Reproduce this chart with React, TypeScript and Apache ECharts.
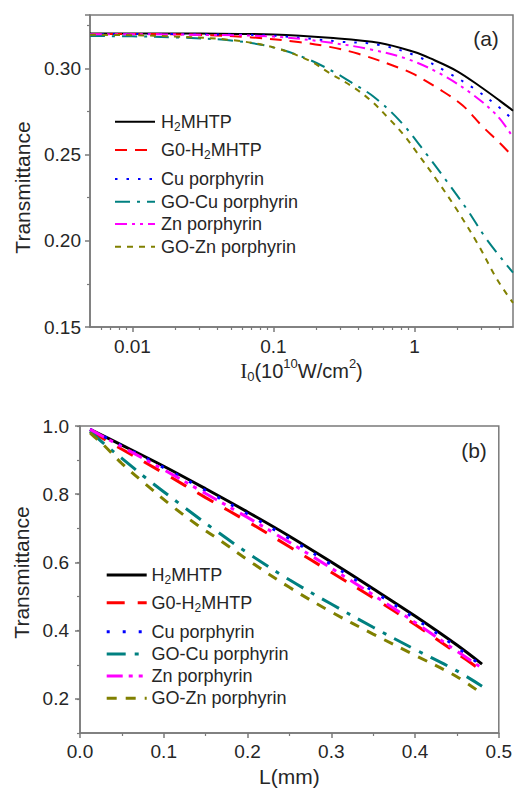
import React, { useEffect, useRef } from 'react';
import * as echarts from 'echarts';

// ---------- DATA ----------
const seriesNames = ['H2MHTP', 'G0-H2MHTP', 'Cu porphyrin', 'GO-Cu porphyrin', 'Zn porphyrin', 'GO-Zn porphyrin'];
const legendRich = ['{n|H}{s|2}{n|MHTP}', '{n|G0-H}{s|2}{n|MHTP}', '{n|Cu porphyrin}', '{n|GO-Cu porphyrin}', '{n|Zn porphyrin}', '{n|GO-Zn porphyrin}'];
const colors = ['#000000', '#ff0000', '#0000ff', '#008080', '#ff00ff', '#808000'];

// (a) Transmittance vs I0 (10^10 W/cm^2)
const aH2MHTP = [[0.005, 0.3203], [0.01, 0.3203], [0.03, 0.3202], [0.1, 0.3197], [0.25, 0.3178], [0.57, 0.3148], [1.0, 0.3095], [1.3, 0.3058], [2.0, 0.2985], [2.94, 0.2894], [4.0, 0.2815], [5.0, 0.2755]];
const aGOH2MHTP = [[0.005, 0.32], [0.01, 0.32], [0.03, 0.3195], [0.07, 0.318], [0.155, 0.3152], [0.25, 0.3125], [0.4, 0.3085], [0.8, 0.3], [1.0, 0.2965], [1.5, 0.288], [2.2, 0.2785], [3.0, 0.2668], [4.0, 0.257], [5.0, 0.2488]];
const aCu = [[0.005, 0.32], [0.01, 0.32], [0.03, 0.3198], [0.1, 0.319], [0.3, 0.3155], [0.55, 0.3138], [1.0, 0.3077], [1.71, 0.2978], [2.64, 0.2884], [4.08, 0.2768], [5.0, 0.27]];
const aGOCu = [[0.005, 0.3188], [0.01, 0.3186], [0.02, 0.318], [0.05, 0.3162], [0.1, 0.3122], [0.18, 0.305], [0.28, 0.2971], [0.35, 0.2923], [0.514, 0.2836], [0.8, 0.269], [1.23, 0.2498], [1.7, 0.2344], [2.37, 0.218], [3.27, 0.2006], [5.0, 0.1815]];
const aZn = [[0.005, 0.3198], [0.01, 0.3198], [0.03, 0.3195], [0.1, 0.3185], [0.25, 0.315], [0.49, 0.311], [0.89, 0.3055], [1.5, 0.2972], [2.5, 0.2858], [3.87, 0.2725], [5.0, 0.26]];
const aGOZn = [[0.005, 0.3195], [0.01, 0.3193], [0.02, 0.3185], [0.05, 0.3165], [0.1, 0.3122], [0.18, 0.3045], [0.253, 0.297], [0.35, 0.2903], [0.486, 0.2817], [0.675, 0.27], [0.84, 0.2614], [1.05, 0.2508], [1.44, 0.2353], [2.0, 0.218], [2.79, 0.1987], [3.87, 0.1774], [5.0, 0.164]];

// (b) Transmittance vs L (mm)
const bH2MHTP = [[0.012, 0.99], [0.05, 0.944], [0.1, 0.882], [0.15, 0.816], [0.2, 0.748], [0.25, 0.677], [0.3, 0.601], [0.35, 0.523], [0.4, 0.443], [0.45, 0.358], [0.48, 0.302]];
const bGOH2MHTP = [[0.012, 0.985], [0.05, 0.932], [0.1, 0.862], [0.15, 0.79], [0.2, 0.72], [0.25, 0.646], [0.3, 0.571], [0.35, 0.496], [0.4, 0.418], [0.45, 0.334], [0.48, 0.282]];
const bCu = [[0.012, 0.99], [0.05, 0.942], [0.1, 0.878], [0.15, 0.811], [0.2, 0.742], [0.25, 0.67], [0.3, 0.594], [0.35, 0.516], [0.4, 0.436], [0.45, 0.351], [0.48, 0.296]];
const bGOCu = [[0.012, 0.985], [0.03, 0.945], [0.05, 0.905], [0.08, 0.845], [0.12, 0.77], [0.16, 0.697], [0.2, 0.628], [0.25, 0.549], [0.3, 0.478], [0.35, 0.41], [0.4, 0.345], [0.45, 0.282], [0.48, 0.237]];
const bZn = [[0.012, 0.99], [0.05, 0.939], [0.1, 0.872], [0.15, 0.802], [0.2, 0.732], [0.25, 0.659], [0.3, 0.583], [0.35, 0.505], [0.4, 0.424], [0.45, 0.34], [0.48, 0.29]];
const bGOZn = [[0.012, 0.98], [0.02, 0.962], [0.03, 0.94], [0.05, 0.89], [0.08, 0.826], [0.11, 0.765], [0.14, 0.71], [0.17, 0.66], [0.2, 0.608], [0.25, 0.527], [0.3, 0.455], [0.35, 0.39], [0.4, 0.328], [0.45, 0.265], [0.48, 0.215]];

// tick values
const aXMajorTicks = [0.01, 0.1, 1];
const aXMinorTicks = [0.006, 0.007, 0.008, 0.009, 0.02, 0.03, 0.04, 0.05, 0.06, 0.07, 0.08, 0.09, 0.2, 0.3, 0.4, 0.5, 0.6, 0.7, 0.8, 0.9, 2, 3, 4];
const bYMajorTicks = [0.2, 0.4, 0.6, 0.8, 1.0];

// ---------- STYLE ----------
const FONT = '"Liberation Sans", Arial, Helvetica, sans-serif';
const AXIS_COLOR = '#7a7a7a';
const TEXT_COLOR = '#262626';
const dashA = ['solid', [12, 8], [2.5, 9], [15, 7, 3, 7], [12, 5, 3, 5, 3, 5], [6, 6]];
const dashB = ['solid', [18, 13], [3, 13], [19, 9, 4, 9], [16, 6, 4, 6, 4, 7], [10, 9]];

const aData = [aH2MHTP, aGOH2MHTP, aCu, aGOCu, aZn, aGOZn];
const bData = [bH2MHTP, bGOH2MHTP, bCu, bGOCu, bZn, bGOZn];

const legendTextRich = {
  n: { fontSize: 18, fontFamily: FONT, fill: TEXT_COLOR, color: TEXT_COLOR },
  s: { fontSize: 12, fontFamily: FONT, fill: TEXT_COLOR, color: TEXT_COLOR, padding: [10, 0, 0, 0] },
};

function legendGraphics(x1: number, x2: number, tx: number, ys: number[], widths: number, dashes: any[]) {
  const els: any[] = [];
  seriesNames.forEach((_, i) => {
    els.push({
      type: 'line',
      shape: { x1, y1: ys[i], x2, y2: ys[i] },
      style: { stroke: colors[i], lineWidth: widths, lineDash: dashes[i] === 'solid' ? null : dashes[i] },
      silent: true,
    });
    els.push({
      type: 'text',
      x: tx,
      y: ys[i],
      style: {
        text: legendRich[i],
        rich: legendTextRich,
        fontSize: 18,
        fontFamily: FONT,
        fill: TEXT_COLOR,
        verticalAlign: 'middle',
        align: 'left',
      },
      silent: true,
    });
  });
  return els;
}

export default function App() {
  const ref = useRef<HTMLDivElement>(null);
  useEffect(() => {
    if (!ref.current) return;
    const chart = echarts.init(ref.current, undefined, { renderer: 'svg' });

    const axisLine = { show: true, lineStyle: { color: AXIS_COLOR, width: 1.5 } };
    const labelStyle = { color: TEXT_COLOR, fontSize: 19, fontFamily: FONT };

    const series: any[] = [];
    aData.forEach((d, i) => {
      series.push({
        name: seriesNames[i],
        type: 'line',
        xAxisIndex: 0,
        yAxisIndex: 0,
        data: d,
        showSymbol: false,
        symbol: 'none',
        smooth: 0.35,
        lineStyle: { color: colors[i], width: 2, type: dashA[i] },
        z: 3,
      });
    });
    bData.forEach((d, i) => {
      series.push({
        name: seriesNames[i],
        type: 'line',
        xAxisIndex: 2,
        yAxisIndex: 1,
        data: d,
        showSymbol: false,
        symbol: 'none',
        smooth: 0.35,
        lineStyle: { color: colors[i], width: 3, type: dashB[i] },
        z: 3,
      });
    });

    const option: any = {
      animation: false,
      backgroundColor: '#ffffff',
      grid: [
        { left: 90, top: 15, width: 423, height: 312, show: true, borderColor: AXIS_COLOR, borderWidth: 1.5, backgroundColor: 'transparent' },
        { left: 80, top: 426, width: 420, height: 307, show: true, borderColor: AXIS_COLOR, borderWidth: 1.5, backgroundColor: 'transparent' },
      ],
      xAxis: [
        {
          type: 'log',
          gridIndex: 0,
          position: 'bottom',
          min: 0.005,
          max: 5,
          logBase: 10,
          axisLine,
          axisTick: { show: true, length: 5, customValues: aXMajorTicks, lineStyle: { color: AXIS_COLOR, width: 1.5 } },
          axisLabel: { ...labelStyle, margin: 10, customValues: aXMajorTicks, formatter: (v: number) => String(v) },
          splitLine: { show: false },
          name: '{i|I}{sub|0}{n|(10}{sup|10}{n|W/cm}{sup|2}{n|)}',
          nameLocation: 'middle',
          nameGap: 30,
          nameTextStyle: {
            color: TEXT_COLOR,
            fontSize: 20,
            fontFamily: FONT,
            rich: {
              i: { fontSize: 21, fontFamily: '"Liberation Serif", "Times New Roman", serif', color: TEXT_COLOR },
              n: { fontSize: 20, fontFamily: FONT, color: TEXT_COLOR },
              sub: { fontSize: 13, fontFamily: FONT, color: TEXT_COLOR, padding: [12, 0, 0, 0] },
              sup: { fontSize: 13, fontFamily: FONT, color: TEXT_COLOR, padding: [0, 0, 14, 0] },
            },
          },
        },
        {
          type: 'log',
          gridIndex: 0,
          position: 'bottom',
          offset: 0,
          min: 0.005,
          max: 5,
          logBase: 10,
          axisLine: { show: false },
          axisTick: { show: true, length: 3, customValues: aXMinorTicks, lineStyle: { color: AXIS_COLOR, width: 1.2 } },
          axisLabel: { show: false },
          splitLine: { show: false },
        },
        {
          type: 'value',
          gridIndex: 1,
          position: 'bottom',
          min: 0,
          max: 0.5,
          interval: 0.1,
          axisLine,
          axisTick: { show: true, length: 5, lineStyle: { color: AXIS_COLOR, width: 1.5 } },
          minorTick: { show: true, splitNumber: 2, length: 3, lineStyle: { color: AXIS_COLOR, width: 1.2 } },
          axisLabel: { ...labelStyle, margin: 9, formatter: (v: number) => v.toFixed(1) },
          splitLine: { show: false },
          name: 'L(mm)',
          nameLocation: 'middle',
          nameGap: 33,
          nameTextStyle: { color: TEXT_COLOR, fontSize: 21, fontFamily: FONT },
        },
      ],
      yAxis: [
        {
          type: 'value',
          gridIndex: 0,
          position: 'left',
          min: 0.15,
          max: 0.331,
          interval: 0.05,
          axisLine,
          axisTick: { show: true, length: 5, lineStyle: { color: AXIS_COLOR, width: 1.5 } },
          minorTick: { show: true, splitNumber: 2, length: 3, lineStyle: { color: AXIS_COLOR, width: 1.2 } },
          axisLabel: { ...labelStyle, margin: 9, showMaxLabel: false, formatter: (v: number) => v.toFixed(2) },
          splitLine: { show: false },
          name: 'Transmittance',
          nameLocation: 'middle',
          nameGap: 57,
          nameTextStyle: { color: TEXT_COLOR, fontSize: 21, fontFamily: FONT, padding: [0, 33, 0, 0] },
        },
        {
          type: 'value',
          gridIndex: 1,
          position: 'left',
          min: 0.1,
          max: 1.0,
          interval: 0.1,
          axisLine,
          axisTick: { show: true, length: 3, lineStyle: { color: AXIS_COLOR, width: 1.2 } },
          axisLabel: { ...labelStyle, margin: 11, customValues: bYMajorTicks, formatter: (v: number) => v.toFixed(1) },
          splitLine: { show: false },
          name: 'Transmittance',
          nameLocation: 'middle',
          nameGap: 43,
          nameTextStyle: { color: TEXT_COLOR, fontSize: 21, fontFamily: FONT, padding: [0, 0, 0, 14] },
        },
        {
          type: 'value',
          gridIndex: 1,
          position: 'left',
          offset: 0,
          min: 0.1,
          max: 1.0,
          interval: 0.1,
          axisLine: { show: false },
          axisTick: { show: true, length: 5, customValues: bYMajorTicks, lineStyle: { color: AXIS_COLOR, width: 1.5 } },
          axisLabel: { show: false },
          splitLine: { show: false },
        },
      ],
      series,
      graphic: [
        ...legendGraphics(115, 155, 161, [121.7, 150, 179, 201.7, 224, 246.7], 2, dashA),
        ...legendGraphics(106.7, 146.7, 151.5, [575, 602.7, 631.7, 654, 676, 698.3], 3, dashB),
        { type: 'text', x: 486, y: 38, style: { text: '(a)', fontSize: 21, fontFamily: FONT, fill: TEXT_COLOR, align: 'center', verticalAlign: 'middle' }, silent: true },
        { type: 'text', x: 474, y: 450, style: { text: '(b)', fontSize: 21, fontFamily: FONT, fill: TEXT_COLOR, align: 'center', verticalAlign: 'middle' }, silent: true },
      ],
    };
    chart.setOption(option);
    return () => chart.dispose();
  }, []);
  return <div ref={ref} style={{ position: 'absolute', left: 0, top: 0, width: 515, height: 789 }} />;
}
